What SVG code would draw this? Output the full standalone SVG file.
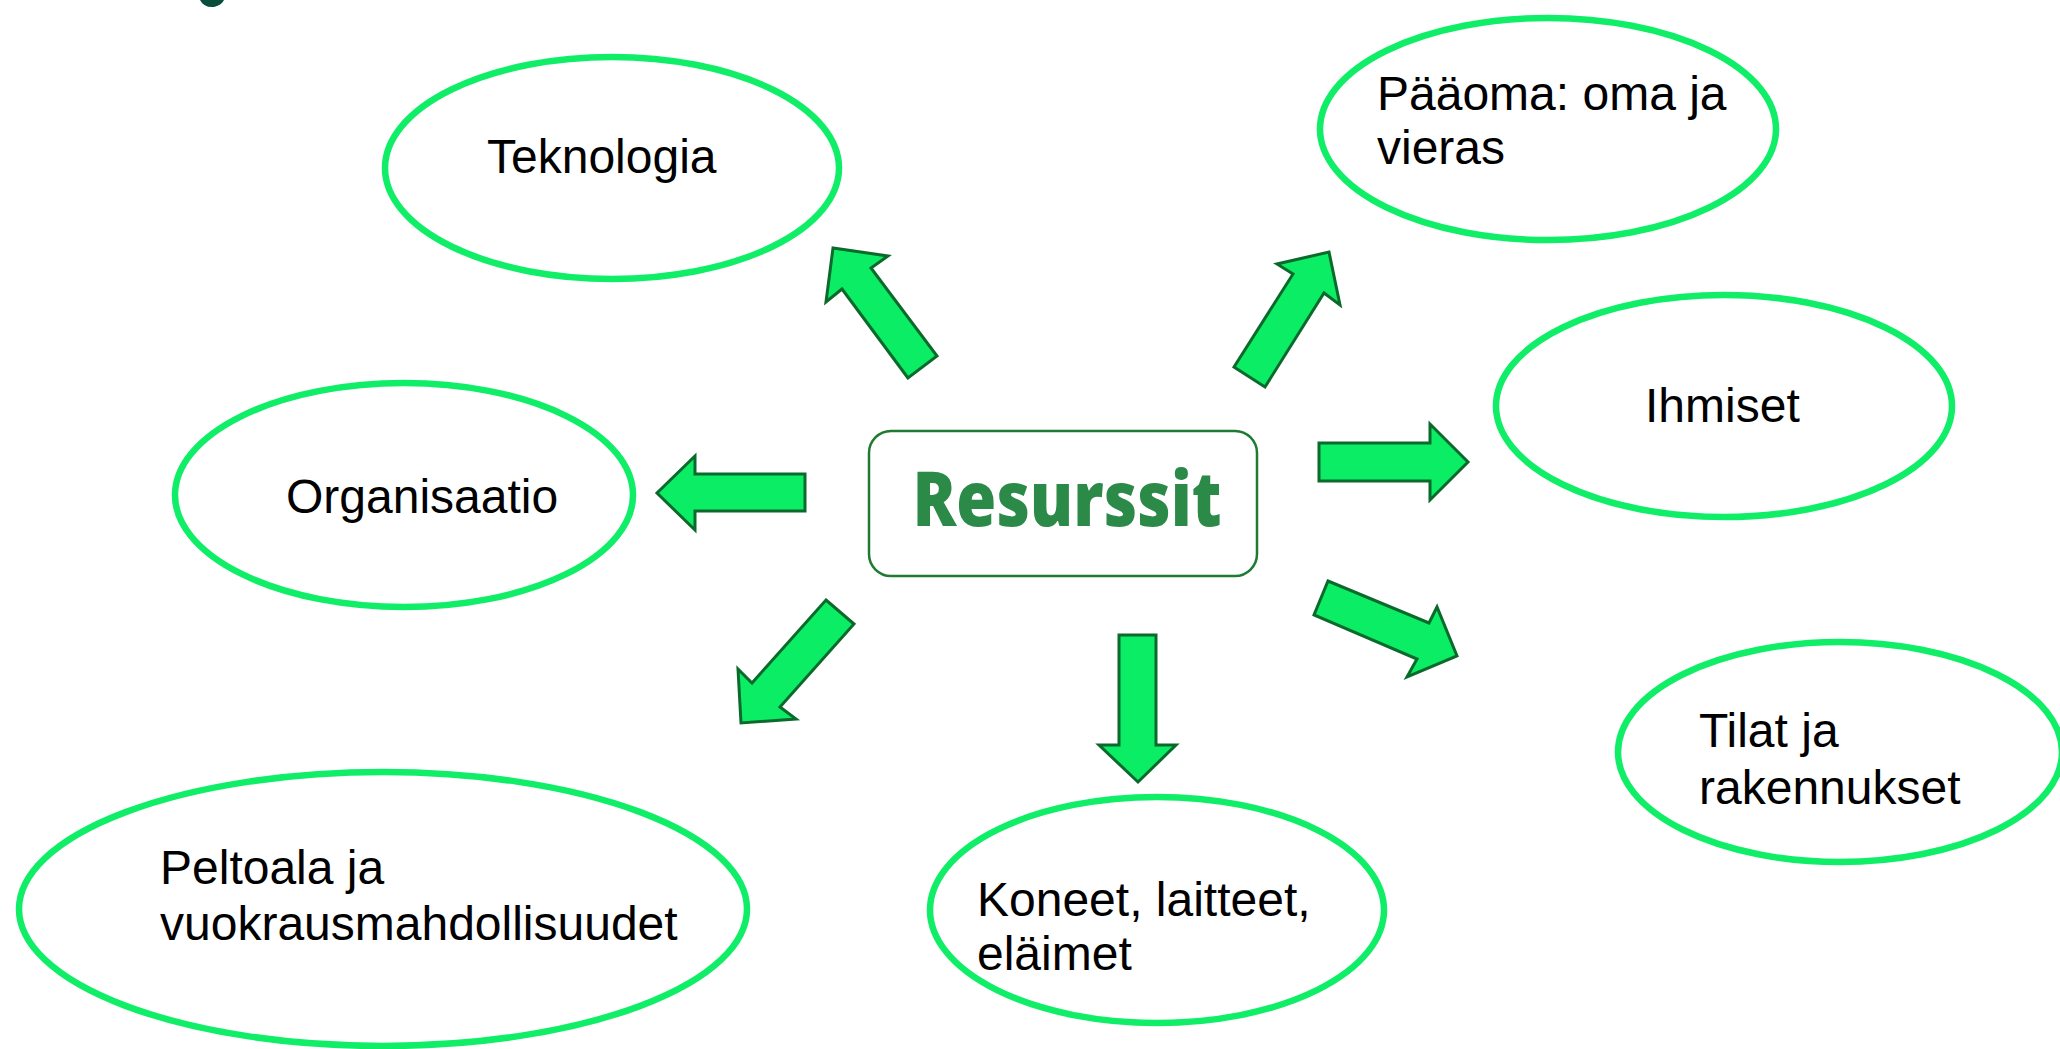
<svg xmlns="http://www.w3.org/2000/svg" width="2060" height="1049" viewBox="0 0 2060 1049">
<style>
.node ellipse{fill:#fff;stroke:#10ee68;stroke-width:6.5}
.lbl{font-family:"Liberation Sans",Arial,sans-serif;font-size:48px;fill:#000}
.arrow{fill:#0ced66;stroke:#0a6a2c;stroke-width:3;stroke-linejoin:miter}
</style>
<rect width="2060" height="1049" fill="#fff"/>
<path d="M200,0 Q204,8 214,7 Q222,5 224,0 Z" fill="#0b4d3c"/>
<g id="center">
<rect x="869" y="431" width="388" height="145" rx="22" fill="#fff" stroke="#1f7a33" stroke-width="2.5"/>
<text x="1067" y="526" text-anchor="middle" font-family="'Open Sans',Lato,sans-serif" font-weight="800" font-size="76" fill="#2b8a47" textLength="309" lengthAdjust="spacingAndGlyphs">Resurssit</text>
</g>
<g id="teknologia" class="node"><ellipse cx="612" cy="168" rx="227" ry="111"/><text class="lbl" x="487" y="173">Teknologia</text></g>
<g id="paaoma" class="node"><ellipse cx="1548" cy="129" rx="228" ry="111"/><text class="lbl" x="1377" y="110">Pääoma: oma ja</text><text class="lbl" x="1377" y="164">vieras</text></g>
<g id="ihmiset" class="node"><ellipse cx="1724" cy="406" rx="228" ry="111"/><text class="lbl" x="1645" y="422">Ihmiset</text></g>
<g id="organisaatio" class="node"><ellipse cx="404" cy="495" rx="229" ry="112"/><text class="lbl" x="286" y="513">Organisaatio</text></g>
<g id="tilat" class="node"><ellipse cx="1840" cy="752" rx="222" ry="110"/><text class="lbl" x="1699" y="747">Tilat ja</text><text class="lbl" x="1699" y="804">rakennukset</text></g>
<g id="peltoala" class="node"><ellipse cx="383" cy="909" rx="364" ry="137"/><text class="lbl" x="160" y="884">Peltoala ja</text><text class="lbl" x="160" y="940">vuokrausmahdollisuudet</text></g>
<g id="koneet" class="node"><ellipse cx="1157" cy="910" rx="227" ry="113"/><text class="lbl" x="977" y="916">Koneet, laitteet,</text><text class="lbl" x="977" y="970">eläimet</text></g>
<g id="connectors">
<polygon class="arrow" points="908,378 842,289 826,302 833,248 888,256 871,268 937,356"/>
<polygon class="arrow" points="1234,367 1293,274 1277,264 1329,252 1340,305 1324,293 1265,387"/>
<polygon class="arrow" points="1319,443 1430,443 1430,424 1468,462 1430,500 1430,481 1319,481"/>
<polygon class="arrow" points="805,474 695,474 695,456 657,493 695,530 695,511 805,511"/>
<polygon class="arrow" points="1328,581 1429,623 1437,607 1457,656 1407,677 1417,659 1314,615"/>
<polygon class="arrow" points="826,600 854,624 780,707 796,719 741,723 738,669 752,683"/>
<polygon class="arrow" points="1119,635 1156,635 1156,745 1176,745 1138,782 1099,745 1119,745"/>
</g>
</svg>
